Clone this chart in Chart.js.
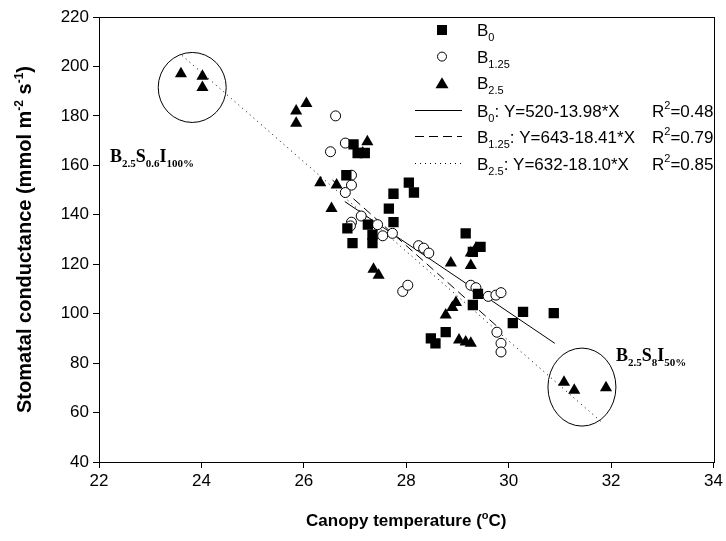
<!DOCTYPE html>
<html>
<head>
<meta charset="utf-8">
<script src="https://cdn.jsdelivr.net/npm/chart.js@4.4.0/dist/chart.umd.min.js"></script>
<style>
html, body { margin: 0; padding: 0; background: #fff; }
#wrap { width: 726px; height: 541px; }
</style>
</head>
<body>
<div id="wrap"><canvas id="gsChart"></canvas></div>
<script>
// canopy temperature (x) and stomatal conductance (y) per biochar rate
var b0X = [26.83, 26.97, 27.05, 27.19, 28.05, 28.15, 27.75, 27.66, 27.75, 26.85, 26.95, 27.25, 27.34, 27.34,
           29.16, 29.45, 29.3, 29.4, 29.3, 30.28, 30.88, 30.08, 28.48, 28.57, 28.77];
var b0Y = [156, 168.5, 165, 165, 153, 149, 148.5, 142.5, 137, 134.5, 128.5, 136, 132, 128.5,
           132.5, 127, 125, 108, 103.5, 100.7, 100.2, 96.2, 90, 88, 92.5];

var b125X = [26.62, 26.81, 26.52, 26.93, 26.93, 26.81, 26.93, 26.91, 27.12, 27.44, 27.54, 27.73, 28.24, 28.34, 28.44,
             27.93, 28.03, 29.26, 29.36, 29.6, 29.75, 29.85, 29.77, 29.85, 29.85];
var b125Y = [180, 169, 165.5, 156, 152, 149, 137, 135.5, 139.5, 136, 131.5, 132.5, 127.5, 126.5, 124.5,
             109, 111.5, 111.5, 110.5, 107, 107.5, 108.5, 92.5, 88, 84.5];

var b25X = [23.6, 24.02, 24.02, 25.85, 25.85, 26.05, 26.32, 26.64, 26.54, 27.24, 27.15, 27.36, 27.46,
            28.87, 29.26, 29.26, 29.36, 28.77, 28.9, 28.97, 29.03, 29.16, 29.26, 31.08, 31.28, 31.9];
var b25Y = [197, 196, 191.5, 182, 177, 185, 153, 152, 142.5, 169.5, 165, 118, 115.5,
            120.5, 119.5, 124.5, 126.5, 99.5, 102.5, 104.5, 89.3, 88.5, 88, 72.3, 69, 70];

// fitted lines Y = a - b*X
var fitNames = ['0', '1.25', '2.5'];
var fitIntercept = [520, 643, 632];
var fitSlope = [13.98, 18.41, 18.10];
var fitR2 = ['0.48', '0.79', '0.85'];
var fitFrom = [26.8, 26.56, 23.62];
var fitTo = [30.9, 29.85, 31.8];

var xTicks = [22, 24, 26, 28, 30, 32, 34];
var yTicks = [40, 60, 80, 100, 120, 140, 160, 180, 200, 220];

function toPoints(xs, ys) {
    return xs.map(function (x, i) { return { x: x, y: ys[i] }; });
}

function fitLine(i) {
    return [fitFrom[i], fitTo[i]].map(function (x) {
        return { x: x, y: fitIntercept[i] - fitSlope[i] * x };
    });
}

var SANS = '"Liberation Sans", Arial, sans-serif';
var SERIF = '"Liberation Serif", "Times New Roman", serif';
var dashes = [[], [9, 5], [1, 4]];

// text with sub/superscript pieces: parts = [[text, ''|'sub'|'sup'], ...]
function drawRich(ctx, x, y, parts, f, align) {
    var widths = parts.map(function (p) {
        ctx.font = f.weight + ' ' + (p[1] ? f.small : f.size) + 'px ' + f.family;
        return ctx.measureText(p[0]).width;
    });
    var total = widths.reduce(function (a, b) { return a + b; }, 0);
    var cx = align === 'center' ? x - total / 2 : x;
    ctx.textAlign = 'left';
    ctx.textBaseline = 'alphabetic';
    parts.forEach(function (p, i) {
        ctx.font = f.weight + ' ' + (p[1] ? f.small : f.size) + 'px ' + f.family;
        var dy = p[1] === 'sub' ? f.size * 0.3 : (p[1] === 'sup' ? -f.size * 0.42 : 0);
        ctx.fillText(p[0], cx, y + dy);
        cx += widths[i];
    });
}

var extras = {
    id: 'extras',
    afterDraw: function (chart) {
        var ctx = chart.ctx;
        var a = chart.chartArea;
        var xs = chart.scales.x, ys = chart.scales.y;
        ctx.save();
        ctx.strokeStyle = '#000';
        ctx.fillStyle = '#000';
        ctx.lineWidth = 1;

        // frame
        ctx.strokeRect(Math.round(a.left) + 0.5, Math.round(a.top) + 0.5,
            Math.round(a.right - a.left), Math.round(a.bottom - a.top));

        // circled groups
        ctx.beginPath();
        ctx.ellipse(xs.getPixelForValue(23.82), ys.getPixelForValue(191.5), 34, 35, 0, 0, Math.PI * 2);
        ctx.stroke();
        ctx.beginPath();
        ctx.ellipse(xs.getPixelForValue(31.43), ys.getPixelForValue(70.3), 34, 39, 0, 0, Math.PI * 2);
        ctx.stroke();

        var lab = { family: SERIF, weight: 'bold', size: 18, small: 11 };
        drawRich(ctx, 110, 162, [['B', ''], ['2.5', 'sub'], ['S', ''], ['0.6', 'sub'], ['I', ''], ['100%', 'sub']], lab);
        drawRich(ctx, 616, 361, [['B', ''], ['2.5', 'sub'], ['S', ''], ['8', 'sub'], ['I', ''], ['50%', 'sub']], lab);

        // legend
        var lf = { family: SANS, weight: 'normal', size: 17, small: 11 };
        var rowY = function (i) { return 30 + i * 26.6; };
        var mx = 442, tx = 477;
        // markers
        ctx.fillRect(mx - 5, rowY(0) - 5, 10, 10);
        ctx.beginPath();
        ctx.arc(mx, rowY(1), 4.5, 0, Math.PI * 2);
        ctx.fillStyle = '#fff';
        ctx.fill();
        ctx.stroke();
        ctx.fillStyle = '#000';
        ctx.beginPath();
        ctx.moveTo(mx, rowY(2) - 6);
        ctx.lineTo(mx + 6.5, rowY(2) + 5);
        ctx.lineTo(mx - 6.5, rowY(2) + 5);
        ctx.closePath();
        ctx.fill();
        for (var i = 0; i < 3; i++) {
            drawRich(ctx, tx, rowY(i) + 6, [['B', ''], [fitNames[i], 'sub']], lf);
        }
        for (var j = 0; j < 3; j++) {
            var y = Math.round(rowY(j + 3)) + 0.5;
            ctx.setLineDash(dashes[j]);
            ctx.beginPath();
            ctx.moveTo(415, y);
            ctx.lineTo(462, y);
            ctx.stroke();
            ctx.setLineDash([]);
            drawRich(ctx, tx, y + 6, [['B', ''], [fitNames[j], 'sub'],
                [': Y=' + fitIntercept[j] + '-' + fitSlope[j].toFixed(2) + '*X', '']], lf);
            drawRich(ctx, 652, y + 6, [['R', ''], ['2', 'sup'], ['=' + fitR2[j], '']], lf);
        }

        // axis titles
        var tf = { family: SANS, weight: 'bold', size: 17, small: 11 };
        drawRich(ctx, (a.left + a.right) / 2, 526, [['Canopy temperature (', ''], ['o', 'sup'], ['C)', '']], tf, 'center');
        ctx.translate(31, (a.top + a.bottom) / 2);
        ctx.rotate(-Math.PI / 2);
        var tfy = { family: SANS, weight: 'bold', size: 20, small: 12 };
        drawRich(ctx, 0, 0, [['Stomatal conductance (mmol m', ''], ['-2', 'sup'], [' s', ''], ['-1', 'sup'], [')', '']], tfy, 'center');
        ctx.restore();
    }
};

document.addEventListener('DOMContentLoaded', function () {
    var ctx = document.getElementById('gsChart').getContext('2d');
    var tickFont = { family: SANS, size: 17 };
    var lineSets = [0, 1, 2].map(function (i) {
        return {
            type: 'line',
            data: fitLine(i),
            borderColor: '#000',
            borderWidth: 1,
            borderDash: dashes[i],
            pointRadius: 0,
            fill: false
        };
    });
    new Chart(ctx, {
        type: 'scatter',
        data: {
            datasets: [{
                label: 'B0',
                data: toPoints(b0X, b0Y),
                pointStyle: 'rect',
                pointRadius: 7.3,
                backgroundColor: '#000',
                borderColor: '#000',
                borderWidth: 0
            }, {
                label: 'B1.25',
                data: toPoints(b125X, b125Y),
                pointStyle: 'circle',
                pointRadius: 5,
                backgroundColor: '#fff',
                borderColor: '#000',
                borderWidth: 1
            }, {
                label: 'B2.5',
                data: toPoints(b25X, b25Y),
                pointStyle: 'triangle',
                pointRadius: 7,
                backgroundColor: '#000',
                borderColor: '#000',
                borderWidth: 0
            }].concat(lineSets)
        },
        options: {
            responsive: true,
            maintainAspectRatio: false,
            animation: false,
            layout: { padding: { top: 17, right: 12, left: 0, bottom: 0 } },
            plugins: {
                legend: { display: false },
                tooltip: { enabled: false }
            },
            scales: {
                x: {
                    type: 'linear',
                    min: 22,
                    max: 34,
                    afterBuildTicks: function (s) { s.ticks = xTicks.map(function (v) { return { value: v }; }); },
                    afterFit: function (s) { s.height = 79; },
                    grid: { drawOnChartArea: false, color: '#000', tickLength: 6 },
                    border: { color: '#000', width: 1 },
                    ticks: { color: '#000', font: tickFont, padding: 3 }
                },
                y: {
                    type: 'linear',
                    min: 40,
                    max: 220,
                    afterBuildTicks: function (s) { s.ticks = yTicks.map(function (v) { return { value: v }; }); },
                    afterFit: function (s) { s.width = 99; },
                    grid: { drawOnChartArea: false, color: '#000', tickLength: 6 },
                    border: { color: '#000', width: 1 },
                    ticks: { color: '#000', font: tickFont, padding: 4 }
                }
            }
        },
        plugins: [extras]
    });
});
</script>
</body>
</html>
